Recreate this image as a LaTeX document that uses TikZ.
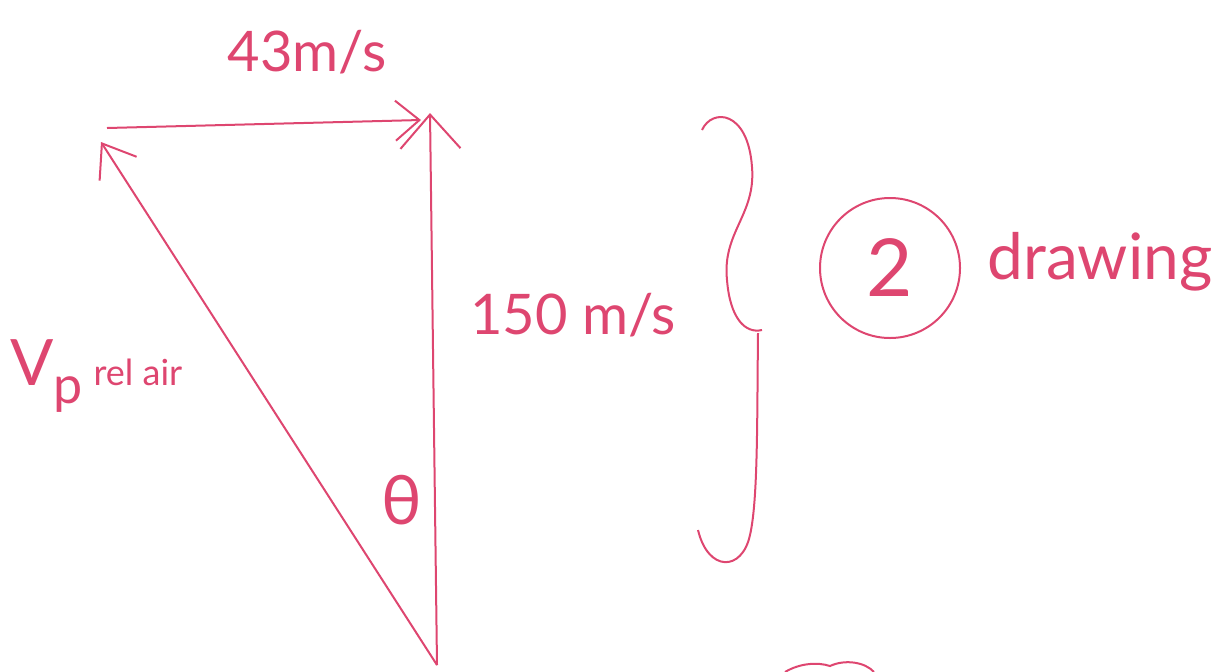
\documentclass[tikz,border=0pt]{standalone}
\usepackage{fontspec}
\setmainfont{Lato}
\usetikzlibrary{arrows.meta}
\definecolor{ink}{RGB}{222,70,112}
\tikzset{
  vec/.style={draw=ink, line width=1pt, -{Straight Barb[length=13pt,width=24pt,line width=1pt]}},
  hand/.style={draw=ink, line width=1pt},
  lbl/.style={text=ink, inner sep=0pt}
}
\begin{document}
\begin{tikzpicture}[x=0.5pt,y=-0.5pt]
\useasboundingbox (0,0) rectangle (1225,671);
% vertices
\coordinate (B) at (437,665);
\coordinate (TR) at (430,113);
\coordinate (TL) at (101,142);
\coordinate (HS) at (107,128);
\coordinate (HE) at (421,120);
% vectors
\draw[vec, -{Straight Barb[length=17pt,width=30pt,line width=1pt]}] (B) -- (TR);
\draw[vec, -{Straight Barb[length=15pt,width=22pt,line width=1pt]}] (B) -- (TL);
\draw[vec, -{Straight Barb[length=12pt,width=20pt,line width=1pt]}] (HS) -- (HE);
% labels
\node[lbl, font=\fontsize{28}{30}\selectfont] (v43) at (307,52) {43m/s};
\node[lbl, font=\fontsize{28}{30}\selectfont] (v150) at (573,315) {150 m/s};
\node[lbl, anchor=base west] (vp) at (10,385) {\fontsize{32}{32}\selectfont V\raisebox{-9pt}{\fontsize{26}{26}\selectfont p}\,\fontsize{18}{18}\selectfont rel air};
\node[lbl, font=\fontsize{34}{36}\selectfont] (th) at (402,500) {θ};
% brace
\draw[hand] (702,130) .. controls (712,108) and (748,110) .. (752,167)
  .. controls (756,215) and (722,232) .. (727,280)
  .. controls (730,318) and (745,334) .. (762,330);
\draw[hand] (758,333) .. controls (757,420) and (758,500) .. (750,535)
  .. controls (742,572) and (708,572) .. (698,530);
% circled 2
\node[lbl, draw=ink, line width=1pt, circle, minimum size=70pt, font=\fontsize{40}{40}\selectfont] (two) at (890,268) {2};
\node[lbl, font=\fontsize{32}{34}\selectfont] (drw) at (1100,262) {drawing};
% partial arc at bottom edge
\draw[hand] (785,672) .. controls (800,663) and (818,662) .. (830,666)
  .. controls (845,659) and (865,662) .. (874,672);
\end{tikzpicture}
\end{document}
